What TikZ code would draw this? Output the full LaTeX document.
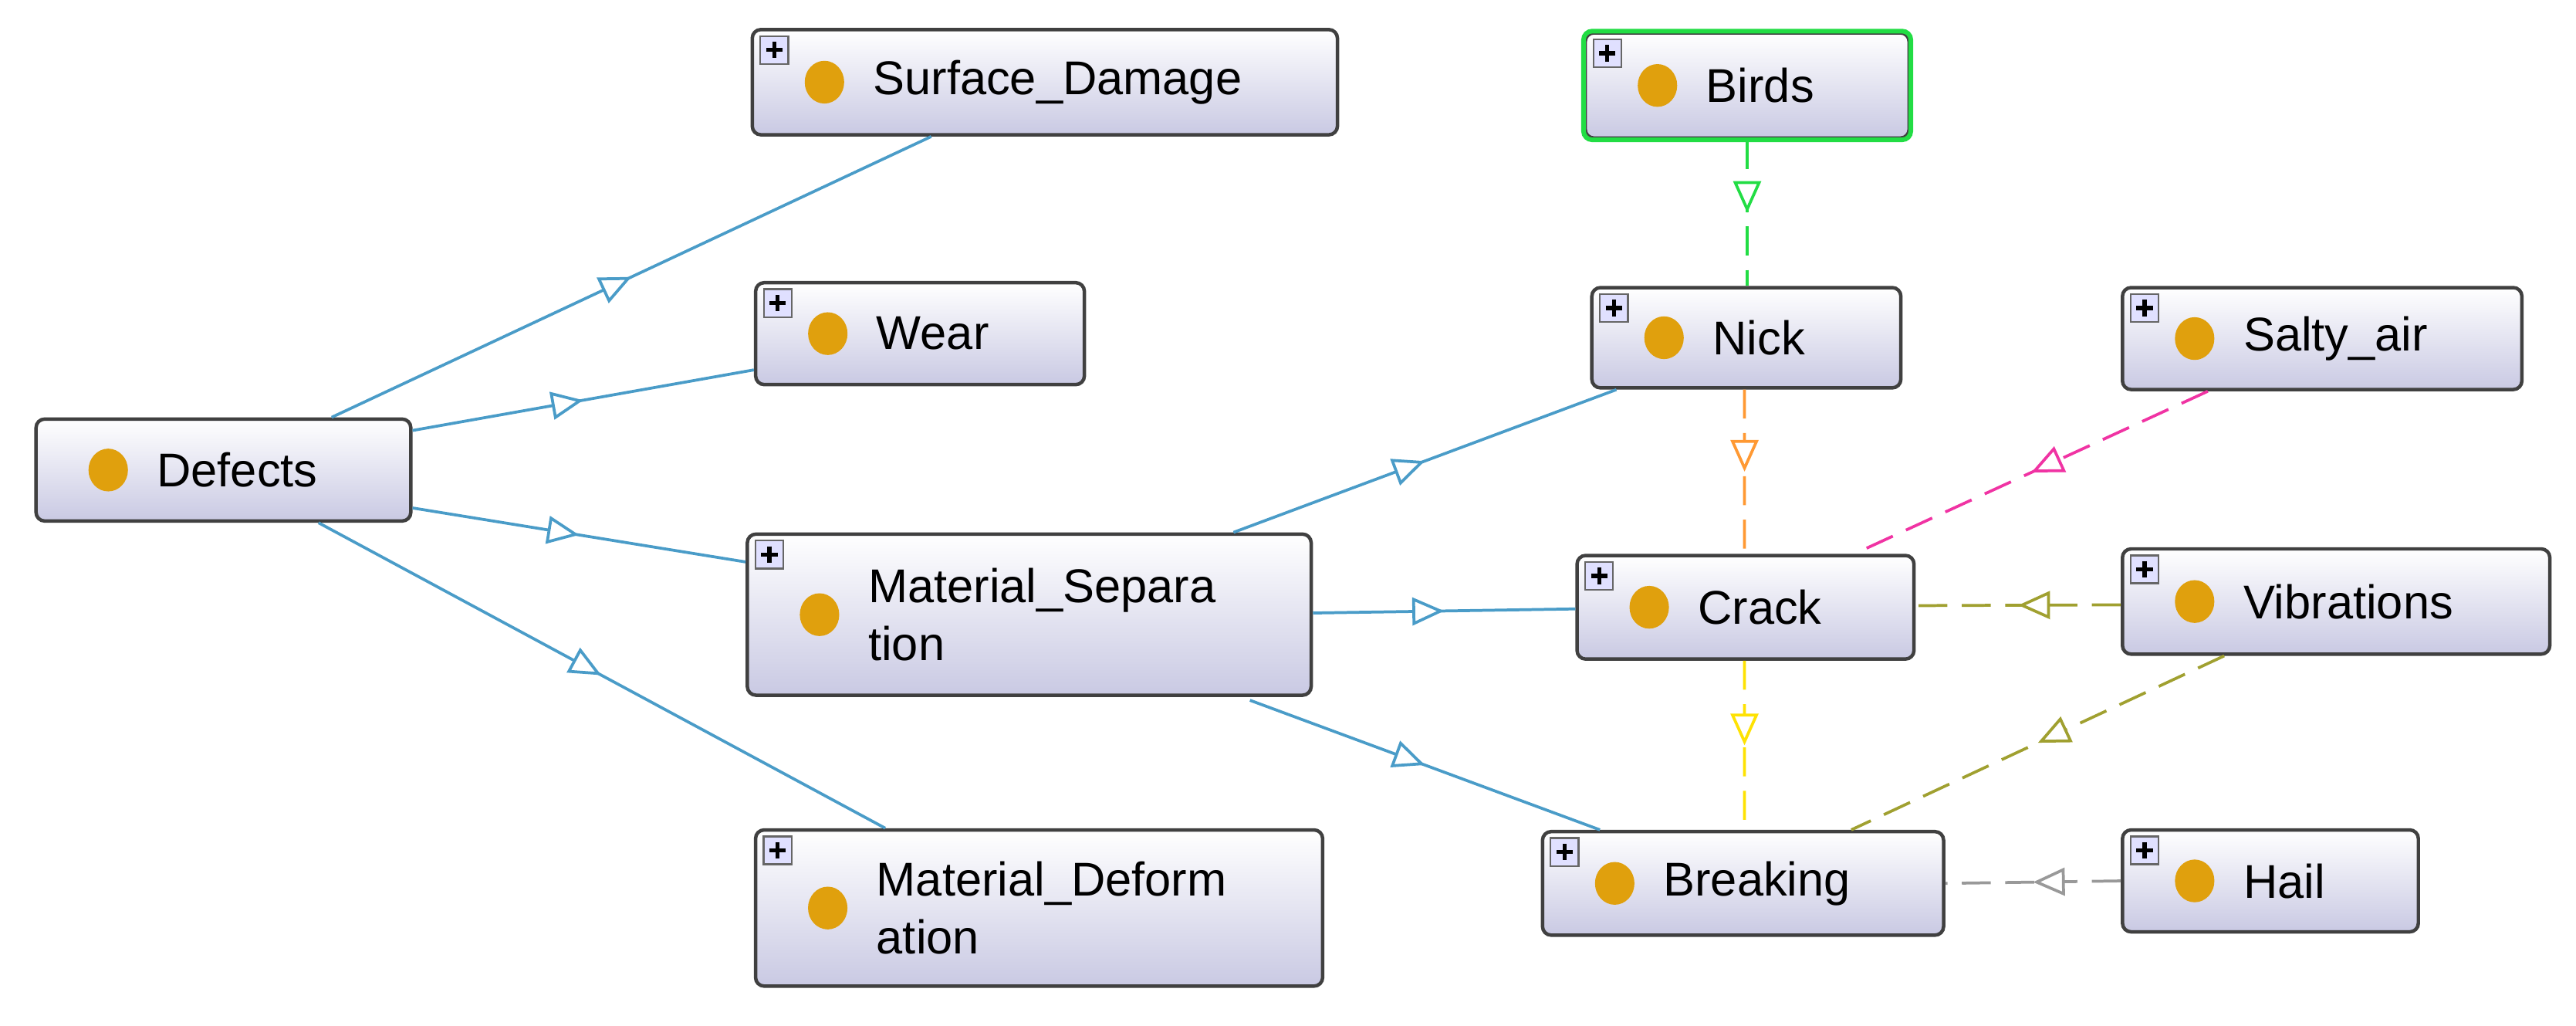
\documentclass[tikz,border=0pt]{standalone}
\usepackage{fontspec}
\setmainfont{Liberation Sans}
\usetikzlibrary{calc,arrows.meta,decorations.markings}
\definecolor{edgeblue}{HTML}{4A9CC8}
\definecolor{dot}{HTML}{E0A00D}
\definecolor{lav}{HTML}{C9C9E3}
\definecolor{olive}{HTML}{A0A030}
\definecolor{gborder}{HTML}{22DD44}
\tikzset{
  x=0.01cm,y=-0.01cm,
  cls/.style={draw=black!75,line width=0.6pt,rounded corners=1.5pt,top color=white,bottom color=lav,inner sep=0pt},
  lbl/.style={anchor=west,font=\fontsize{8.2}{10}\selectfont,inner sep=0pt,align=left},
  mid/.style={postaction={decorate},decoration={markings,mark=at position 0.5 with {\arrow{Triangle[open,fill=white,length=5.5pt,width=4.8pt]}}}},
  isa/.style={draw=edgeblue,line width=0.5pt,mid},
  dsh/.style={line width=0.5pt,dash pattern=on 5pt off 2.5pt,mid},
}
\newcommand\owlcls[6]{%
  \node[cls,minimum width={(#4-#2)*0.284528pt},minimum height={(#5-#3)*0.284528pt}] (#1) at ({(#2+#4)/2},{(#3+#5)/2}) {};
  \fill[dot] ($(#1.west)+(45,0)$) circle[x radius=0.12cm,y radius=0.13cm];
  \node[lbl] at ($(#1.west)+(74,0)$) {#6};}
\newcommand\plusicon[1]{%
  \draw[draw=black!60,fill=blue!12,line width=0.3pt] ($(#1.north west)+(6,5)$) rectangle ($(#1.north west)+(23,22)$);
  \draw[line width=0.7pt] ($(#1.north west)+(9.5,13.5)$) -- ($(#1.north west)+(19.5,13.5)$)
    ($(#1.north west)+(14.5,8.5)$) -- ($(#1.north west)+(14.5,18.5)$);}
\begin{document}
\begin{tikzpicture}
\useasboundingbox (0,0) rectangle (1568,624);
\owlcls{sd}{458}{18}{814}{82}{Surface\_Damage}
\owlcls{wear}{460}{172}{660}{234}{Wear}
\owlcls{def}{22}{255}{250}{317}{Defects}
\owlcls{ms}{455}{325}{798}{423}{Material\_Separa\\tion}
\owlcls{md}{460}{505}{805}{600}{Material\_Deform\\ation}
\owlcls{birds}{965}{20}{1162}{84}{Birds}
\draw[gborder,line width=0.8pt,rounded corners=1.5pt] (birds.south west) rectangle (birds.north east);
\owlcls{nick}{969}{175}{1157}{236}{Nick}
\owlcls{salty}{1292}{175}{1535}{237}{Salty\_air}
\owlcls{crack}{960}{338}{1165}{401}{Crack}
\owlcls{vib}{1292}{334}{1552}{398}{Vibrations}
\owlcls{brk}{939}{506}{1183}{569}{Breaking}
\owlcls{hail}{1292}{505}{1472}{567}{Hail}
\foreach \n in {sd,wear,ms,md,birds,nick,salty,crack,vib,brk,hail} {\plusicon{\n}}
% is-a edges
\draw[isa] ($(def.north west)+(181,0)$) -- ($(sd.south west)+(110,0)$);
\draw[isa] ($(def.north east)+(0,8)$) -- ($(wear.south west)+(0,-10)$);
\draw[isa] ($(def.south east)+(0,-9)$) -- ($(ms.north west)+(0,18)$);
\draw[isa] ($(def.south west)+(173,0)$) -- ($(md.north west)+(80,0)$);
\draw[isa] ($(ms.north west)+(297,0)$) -- ($(nick.south west)+(16,0)$);
\draw[isa] ($(ms.east)+(0,-1)$) -- ($(crack.west)+(0,1)$);
\draw[isa] ($(ms.south west)+(307,2)$) -- ($(brk.north west)+(36,0)$);
% dashed edges
\draw[dsh,draw=gborder] (birds.south) -- (birds.south |- nick.north);
\draw[dsh,draw=orange!80] ($(nick.south west)+(94,0)$) -- ($(crack.north west)+(103,0)$);
\draw[dsh,draw=yellow!85!orange] ($(crack.south west)+(103,0)$) -- ($(brk.north west)+(124,0)$);
\draw[dsh,draw=magenta!80] ($(salty.south west)+(53,0)$) -- ($(crack.north west)+(170,0)$);
\draw[dsh,draw=olive] ($(vib.west)+(0,2)$) -- ($(crack.east)+(0,-1)$);
\draw[dsh,draw=olive] ($(vib.south west)+(63,0)$) -- ($(brk.north west)+(189,0)$);
\draw[dsh,draw=black!40] (hail.west) -- (brk.east);
\end{tikzpicture}
\end{document}
